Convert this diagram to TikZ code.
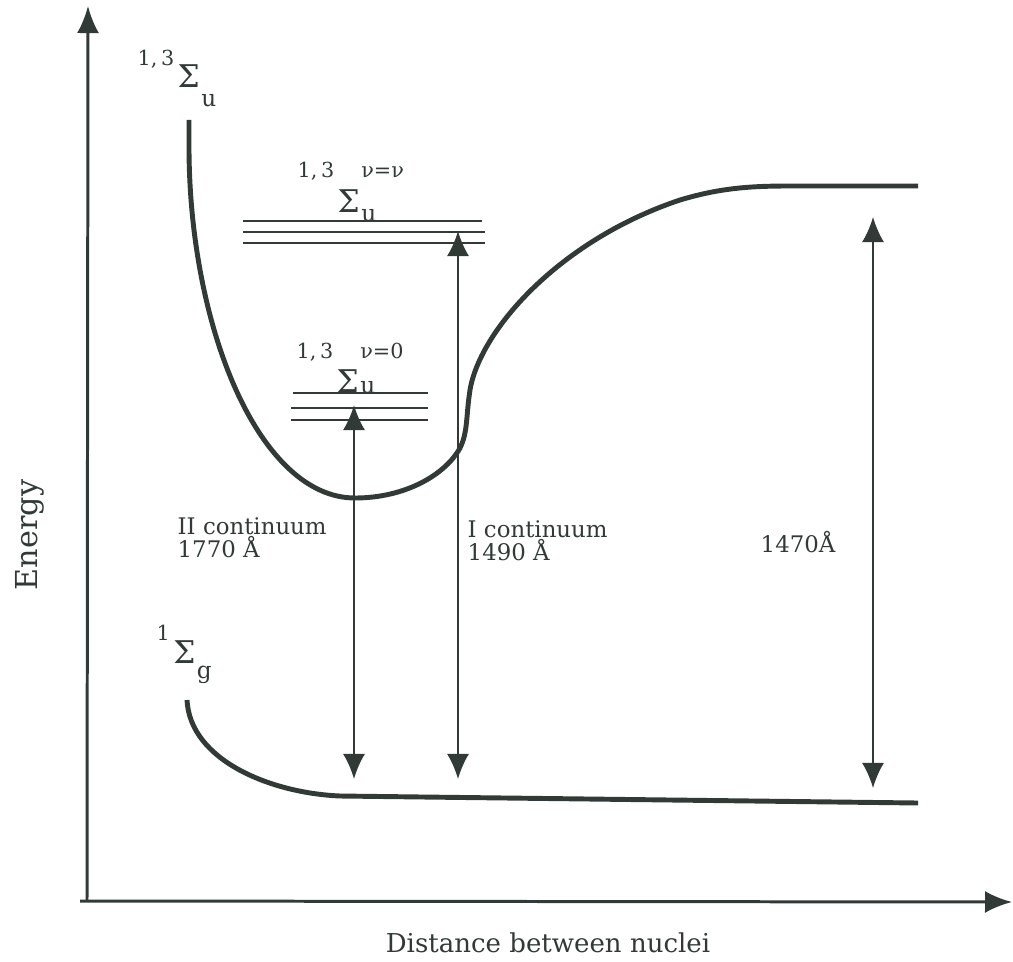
\documentclass[tikz,border=0pt]{standalone}
\usepackage{fontspec}
\setmainfont{DejaVu Serif}
\usetikzlibrary{arrows.meta}
\definecolor{ink}{RGB}{50,58,54}
\newcommand{\supfont}{\fontsize{5.9}{6}\selectfont}
\newcommand{\subfont}{\fontsize{6.6}{7}\selectfont}
% #1 left sup, #2 sub, #3 right sup, #4 raise of sups, #5 drop of sub
\newcommand{\stateterm}[5]{\raisebox{#4}{\supfont #1}\kern1pt Σ\kern0.4pt\makebox[0pt][l]{\raisebox{#4}{\supfont #3}}\raisebox{-#5}{\subfont #2}}
\begin{document}
\begin{tikzpicture}[x=0.01cm,y=-0.01cm,
  axis/.style={draw=ink,line width=0.85pt,-{Latex[length=2.7mm,width=2.2mm]}},
  curve/.style={draw=ink,line width=1.4pt,line join=round},
  level/.style={draw=ink,line width=0.85pt},
  trans/.style={draw=ink,line width=0.6pt,{Latex[length=2.5mm,width=2.2mm]}-{Latex[length=2.5mm,width=2.2mm]}},
  lab/.style={text=ink,font=\fontsize{6.5}{6.3}\selectfont,inner sep=0pt,align=left,anchor=base west},
  term/.style={text=ink,inner sep=0pt,anchor=base west,font=\fontsize{8.9}{9}\selectfont},
  title/.style={text=ink,inner sep=0pt},
]
\useasboundingbox (0,0) rectangle (1013,961);
% axes
\coordinate (O) at (87,900);
\coordinate (Xstart) at (80,901);
\coordinate (Ytop) at (88,6);
\coordinate (Xend) at (1012,902);
\draw[axis] (O) -- (Ytop);
\draw[axis] (Xstart) -- (Xend);
\node[title,rotate=90,font=\fontsize{8.6}{9}\selectfont] (ylab) at (30,535) {Energy};
\node[title,font=\fontsize{7.4}{8}\selectfont] (xlab) at (548,943) {Distance between nuclei};

% upper potential curve
\draw[curve] (189,120) -- (189,150)
  .. controls (190,330) and (260,498) .. (355,498)
  .. controls (405,498) and (445,475) .. (460,448)
  .. controls (468,432) and (466,415) .. (470,390)
  .. controls (480,330) and (560,240) .. (680,200)
  .. controls (720,188) and (750,186) .. (790,186) -- (918,186);
% lower potential curve
\draw[curve] (187,700) .. controls (190,760) and (270,793) .. (340,796) -- (918,803);

% vibrational levels v=v
\coordinate (a1) at (243,221); \coordinate (b1) at (482,221);
\coordinate (a2) at (243,232); \coordinate (b2) at (485,232);
\coordinate (a3) at (243,243); \coordinate (b3) at (485,243);
\draw[level] (a1) -- (b1); \draw[level] (a2) -- (b2); \draw[level] (a3) -- (b3);
% vibrational levels v=0
\coordinate (c1) at (293,393); \coordinate (d1) at (428,393);
\coordinate (c2) at (291,408); \coordinate (d2) at (428,408);
\coordinate (c3) at (291,420); \coordinate (d3) at (428,420);
\draw[level] (c1) -- (d1); \draw[level] (c2) -- (d2); \draw[level] (c3) -- (d3);

% transitions
\coordinate (t1a) at (354,405); \coordinate (t1b) at (354,779);
\coordinate (t2a) at (458,231); \coordinate (t2b) at (458,779);
\coordinate (t3a) at (873,217); \coordinate (t3b) at (873,788);
\draw[trans] (t1a) -- (t1b);
\draw[trans] (t2a) -- (t2b);
\draw[trans] (t3a) -- (t3b);

% term labels
\node[term] (su) at (137,88) {\stateterm{1,\kern1pt3}{u}{}{6.3pt}{5.2pt}};
\node[term] (suv) at (297,213) {\stateterm{1,\kern1pt3}{u}{ν=ν}{10pt}{2.3pt}};
\node[term] (su0) at (296,392) {\stateterm{1,\kern1pt3}{u}{ν=0}{9.4pt}{0.3pt}};
\node[term] (sg) at (156,663) {\stateterm{1}{g}{}{6.3pt}{4.3pt}};

% transition labels
\node[lab] (l2) at (177,557) {II continuum\\1770 Å};
\node[lab] (l1) at (467,560) {I continuum\\1490 Å};
\node[lab] (l3) at (760,552) {1470Å};
\end{tikzpicture}
\end{document}
